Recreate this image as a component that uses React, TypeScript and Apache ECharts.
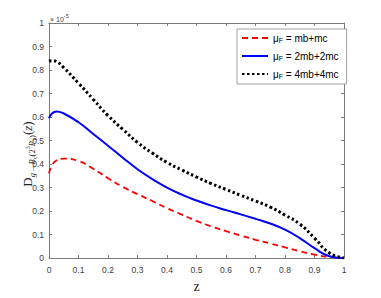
import React, { useEffect, useRef } from "react";
import * as echarts from "echarts";

const zValues = [0, 0.01, 0.025, 0.05, 0.1, 0.15, 0.2, 0.25, 0.3, 0.35, 0.4, 0.45, 0.5, 0.55, 0.6, 0.65, 0.7, 0.75, 0.8, 0.85, 0.9, 0.95, 1.0];
const seriesMbMc = [0.36, 0.395, 0.415, 0.423, 0.413, 0.38, 0.34, 0.303, 0.272, 0.243, 0.212, 0.185, 0.158, 0.135, 0.115, 0.096, 0.078, 0.062, 0.046, 0.029, 0.015, 0.005, 0];
const series2 = [0.595, 0.615, 0.624, 0.615, 0.578, 0.528, 0.478, 0.427, 0.378, 0.336, 0.3, 0.27, 0.245, 0.223, 0.204, 0.186, 0.167, 0.147, 0.121, 0.085, 0.042, 0.008, 0];
const series4 = [0.838, 0.84, 0.836, 0.81, 0.744, 0.675, 0.606, 0.548, 0.492, 0.447, 0.407, 0.375, 0.345, 0.317, 0.292, 0.267, 0.243, 0.217, 0.183, 0.145, 0.085, 0.022, 0];
const legendNames = ["μF = mb+mc", "μF = 2mb+2mc", "μF = 4mb+4mc"];

// y-axis label pieces: text, font size, italic, baseline shift
const yLabelPieces: [string, number, boolean, number][] = [
  ["D", 13, false, 0],
  ["g", 8.5, true, 3],
  ["→", 8.5, false, 3],
  ["B", 8.5, true, 3],
  ["c", 6.5, false, 5],
  ["(2", 8.5, false, 3],
  ["3", 6, false, -1.5],
  ["P", 8.5, true, 3],
  ["1", 6.5, false, 5],
  [")", 8.5, false, 3],
  ["(", 13, false, 0],
  ["z", 13, true, 0],
  [")", 13, false, 0],
];

const pairs = (ys: number[]) => zValues.map((z, i) => [z, ys[i]]);

export default function App() {
  const ref = useRef<HTMLDivElement>(null);
  useEffect(() => {
    const chart = echarts.init(ref.current!, null, { renderer: "svg" });
    const axisColor = "#7a7a7a";
    const labelColor = "#404040";
    const font = "Liberation Sans";
    const serif = "Liberation Serif";
    const grid = { left: 49, right: 37, top: 23, bottom: 33 };
    const axisCommon = {
      type: "value",
      min: 0,
      max: 1,
      interval: 0.1,
      axisLine: { show: true, onZero: false, lineStyle: { color: axisColor, width: 1 } },
      axisTick: { show: true, inside: true, length: 3, lineStyle: { color: axisColor } },
      splitLine: { show: false },
    };

    // build rotated y label from measured pieces
    const cv = document.createElement("canvas");
    const ctx = cv.getContext("2d")!;
    const widths = yLabelPieces.map(([t, f, it]) => {
      ctx.font = `${it ? "italic " : ""}${f}px "${serif}"`;
      return ctx.measureText(t).width;
    });
    const total = widths.reduce((a, b) => a + b, 0);
    let cx = -total / 2;
    const baseY = 4;
    const labelChildren = yLabelPieces.map(([t, f, it, dy], i) => {
      const el = {
        type: "text",
        x: cx,
        y: baseY + dy - 0.35 * f,
        style: {
          text: t,
          fontFamily: serif,
          fontSize: f,
          fontStyle: it ? "italic" : "normal",
          fill: "#222",
          align: "left",
          verticalAlign: "middle",
        },
      };
      cx += widths[i];
      return el;
    });

    chart.setOption({
      animation: false,
      backgroundColor: "#fff",
      grid,
      legend: {
        orient: "vertical",
        left: 237,
        top: 29,
        width: 106,
        padding: [4, 8, 4, 4],
        itemGap: 7,
        itemWidth: 26,
        itemHeight: 12,
        borderColor: "#8a8a8a",
        borderWidth: 0.8,
        backgroundColor: "#fff",
        itemStyle: { opacity: 0, color: "transparent", borderWidth: 0 },
        data: legendNames,
        formatter: (n: string) => {
          const rest = n.slice(2);
          return "{a|μ}{s|F}{a|" + rest + "}";
        },
        textStyle: {
          fontFamily: font,
          fontSize: 10,
          color: "#000",
          rich: {
            a: { fontFamily: font, fontSize: 10, color: "#000", verticalAlign: "middle" },
            s: { fontFamily: font, fontSize: 7, color: "#000", padding: [5, 0, 0, 0] },
          },
        },
      },
      xAxis: [
        {
          ...axisCommon,
          axisLabel: { color: labelColor, fontFamily: font, fontSize: 8.5, margin: 7 },
          name: "z",
          nameLocation: "middle",
          nameGap: 20,
          nameTextStyle: { fontFamily: serif, fontSize: 14, color: "#222" },
        },
        { ...axisCommon, position: "top", axisLabel: { show: false } },
      ],
      yAxis: [
        { ...axisCommon, axisLabel: { color: labelColor, fontFamily: font, fontSize: 8.5, margin: 5 } },
        { ...axisCommon, position: "right", axisLabel: { show: false } },
      ],
      series: [
        {
          name: legendNames[0],
          type: "line",
          smooth: 0.5,
          symbol: "none",
          data: pairs(seriesMbMc),
          lineStyle: { color: "#ff0000", width: 1.8, type: [6, 4] },
          itemStyle: { color: "#ff0000" },
        },
        {
          name: legendNames[1],
          type: "line",
          smooth: 0.5,
          symbol: "none",
          data: pairs(series2),
          lineStyle: { color: "#0000ff", width: 2 },
          itemStyle: { color: "#0000ff" },
        },
        {
          name: legendNames[2],
          type: "line",
          smooth: 0.5,
          symbol: "none",
          data: pairs(series4),
          lineStyle: { color: "#000", width: 3, type: [2.5, 2.5] },
          itemStyle: { color: "#000" },
        },
      ],
      graphic: [
        {
          type: "text",
          x: 50,
          y: 13,
          style: {
            text: "{a|× 10}{b|-5}",
            rich: {
              a: { fontFamily: font, fontSize: 7, fill: labelColor, padding: [3, 0, 0, 0] },
              b: { fontFamily: font, fontSize: 5.5, fill: labelColor, padding: [0, 0, 4, 0] },
            },
          },
        },
        {
          type: "group",
          x: 28,
          y: 154,
          rotation: Math.PI / 2,
          children: labelChildren,
        },
      ],
    });
    return () => chart.dispose();
  }, []);
  return (
    <div
      ref={ref}
      style={{ position: "fixed", left: 0, top: 0, width: 381, height: 298, background: "#fff" }}
    />
  );
}
